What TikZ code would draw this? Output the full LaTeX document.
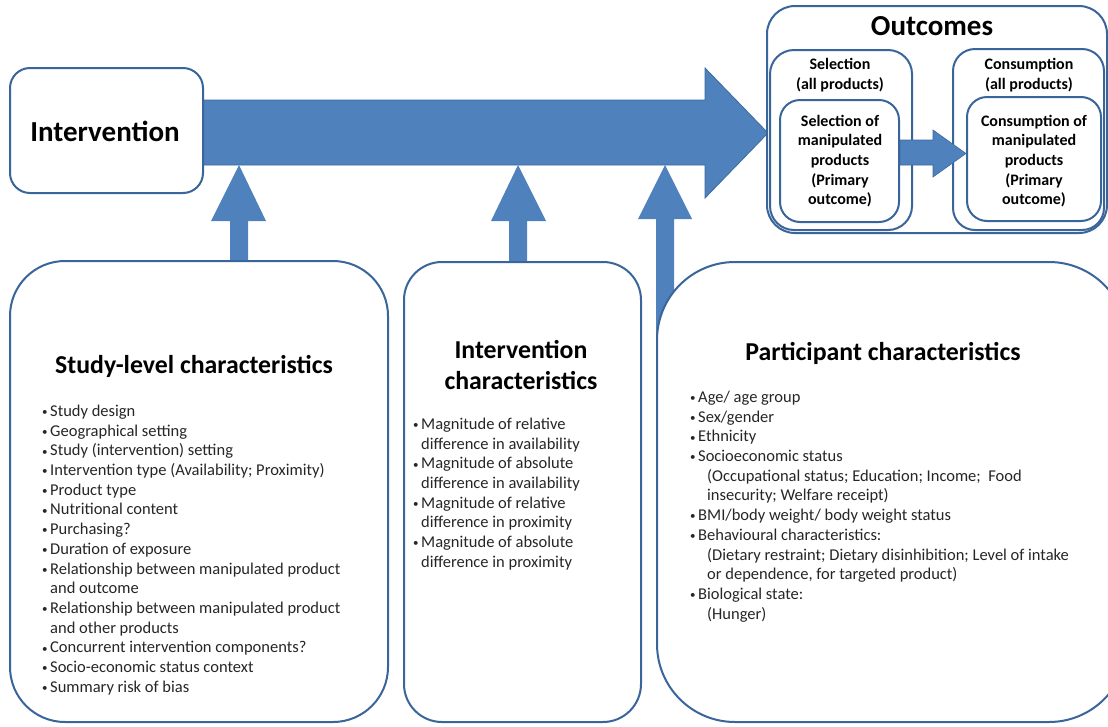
\documentclass[tikz,border=0pt]{standalone}
\usepackage{fontspec}
\setmainfont{Carlito}
\definecolor{arrowblue}{HTML}{4F81BD}
\definecolor{arrowedge}{HTML}{3C6A9E}
\definecolor{boxedge}{HTML}{3A659A}
\definecolor{textgray}{HTML}{262626}
\newcommand\bul{\makebox[8pt][l]{\raisebox{0.8pt}{\fontsize{11}{11}\selectfont•}}}
\newcommand\BulL[1]{\par\noindent\bul#1}
\newcommand\ContL[1]{\par\noindent\hspace*{8pt}#1}
\newcommand\SubL[1]{\par\noindent\hspace*{17pt}#1}
\newcommand\listbox[1]{\parbox[t]{420pt}{\fontsize{16.5}{19.7}\selectfont\color{textgray}#1}}
\tikzset{
  box/.style={draw=boxedge, line width=2pt, fill=white, rectangle, inner sep=0pt},
  bigarrow/.style={fill=arrowblue, draw=arrowedge, line width=0.8pt},
  uparrow/.style={fill=arrowblue},
  bigtitle/.style={font=\fontsize{29}{34}\selectfont\bfseries, inner sep=0pt},
  title/.style={font=\fontsize{25.8}{30.5}\selectfont\bfseries, inner sep=0pt, align=center},
  smalltext/.style={font=\fontsize{16}{19.6}\selectfont\bfseries, inner sep=0pt, align=center},
  listnode/.style={anchor=base west, inner sep=0pt}
}
\begin{document}
\begin{tikzpicture}[x=1pt,y=-1pt]
\useasboundingbox (0,0) rectangle (1108,726);
\clip (0,0) rectangle (1108,726);
\fill[white] (0,0) rectangle (1108,726);

% main arrow
\draw[bigarrow] (203,100) -- (705,100) -- (705,68) -- (768,133) -- (705,198) -- (705,165) -- (203,165) -- cycle;

% up arrows
\fill[uparrow] (230,262) -- (230,221) -- (211,221) -- (239,165) -- (266,221) -- (248,221) -- (248,262) -- cycle;
\fill[uparrow] (509,262) -- (509,221) -- (491,221) -- (518,165) -- (546,221) -- (527,221) -- (527,262) -- cycle;
\fill[uparrow] (656,340) -- (656,219) -- (638,219) -- (665,165) -- (692,219) -- (674,219) -- (674,340) -- cycle;

% intervention
\node[box, rounded corners=20pt, minimum width=193pt, minimum height=125pt] (intv) at (106.5,130.5) {};
\node[bigtitle] (intvt) at (105,131) {Intervention};

% outcomes
\node[box, rounded corners=28pt, minimum width=340pt, minimum height=227pt] (outc) at (937,119.5) {};
\node[bigtitle] (outct) at (932,26) {Outcomes};
\node[box, rounded corners=24pt, minimum width=142pt, minimum height=180pt] (selo) at (841,140) {};
\node[box, rounded corners=22pt, minimum width=151pt, minimum height=181pt] (cono) at (1028.5,139.5) {};
\node[smalltext] (selt) at (840,75) {Selection\\(all products)};
\node[smalltext] (cont) at (1029,75) {Consumption\\(all products)};
\node[box, rounded corners=20pt, minimum width=119pt, minimum height=122pt] (seli) at (839.5,161) {};
\node[box, rounded corners=20pt, minimum width=134pt, minimum height=124pt] (coni) at (1034,159) {};
\node[smalltext] (selit) at (840,161) {Selection of\\manipulated\\products\\(Primary\\outcome)};
\node[smalltext] (conit) at (1034,161) {Consumption of\\manipulated\\products\\(Primary\\outcome)};
\fill[uparrow, draw=arrowedge, line width=0.6pt] (seli.east |- 0,140) -- (933,140) -- (933,130) -- (coni.west |- 0,153.5) -- (933,177) -- (933,165) -- (seli.east |- 0,165) -- cycle;

% study-level box
\node[box, rounded corners=55pt, minimum width=378pt, minimum height=461pt] (study) at (199,491.5) {};
\node[title] (studyt) at (194,366) {Study-level characteristics};
\node[listnode] (studyl) at (42,405) {\listbox{%
\BulL{Study design}
\BulL{Geographical setting}
\BulL{Study (intervention) setting}
\BulL{Intervention type (Availability; Proximity)}
\BulL{Product type}
\BulL{Nutritional content}
\BulL{Purchasing?}
\BulL{Duration of exposure}
\BulL{Relationship between manipulated product}
\ContL{and outcome}
\BulL{Relationship between manipulated product}
\ContL{and other products}
\BulL{Concurrent intervention components?}
\BulL{Socio-economic status context}
\BulL{Summary risk of bias}}};

% intervention characteristics box
\node[box, rounded corners=38pt, minimum width=237pt, minimum height=460pt] (ichar) at (522.5,492) {};
\node[title] (ichart) at (521,365) {Intervention\\characteristics};
\node[listnode] (icharl) at (413,418) {\listbox{%
\BulL{Magnitude of relative}
\ContL{difference in availability}
\BulL{Magnitude of absolute}
\ContL{difference in availability}
\BulL{Magnitude of relative}
\ContL{difference in proximity}
\BulL{Magnitude of absolute}
\ContL{difference in proximity}}};

% participant box
\node[box, rounded corners=78pt, minimum width=470pt, minimum height=460pt] (part) at (892,492) {};
\node[title] (partt) at (883,353) {Participant characteristics};
\node[listnode] (partl) at (690,391) {\listbox{%
\BulL{Age/ age group}
\BulL{Sex/gender}
\BulL{Ethnicity}
\BulL{Socioeconomic status}
\SubL{(Occupational status; Education; Income;\ \ Food}
\SubL{insecurity; Welfare receipt)}
\BulL{BMI/body weight/ body weight status}
\BulL{Behavioural characteristics:}
\SubL{(Dietary restraint; Dietary disinhibition; Level of intake}
\SubL{or dependence, for targeted product)}
\BulL{Biological state:}
\SubL{(Hunger)}}};
\end{tikzpicture}
\end{document}
